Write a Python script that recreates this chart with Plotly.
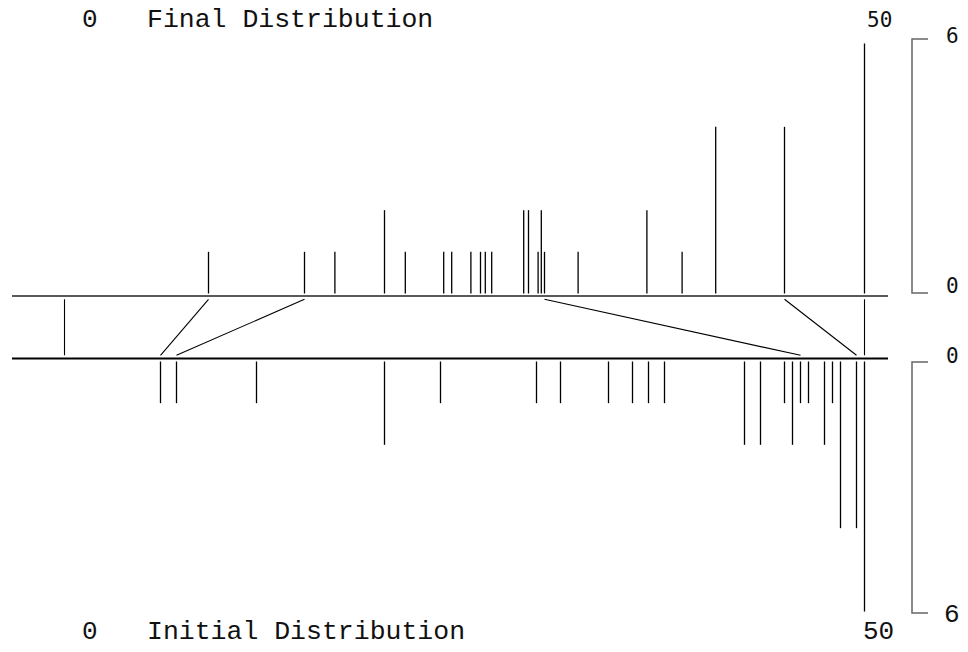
import plotly.graph_objects as go

# ---- data ----
final_values = [9, 15, 16.9, 20, 21.3, 23.7, 24.2, 25.4, 26.0, 26.3, 26.7, 28.7, 29.0,
                29.6, 29.8, 30.0, 32.1, 36.4, 38.6, 40.7, 45, 50]
final_counts = [1, 1, 1, 2, 1, 1, 1, 1, 1, 1, 1, 2, 2, 1, 2, 1, 1, 2, 1, 4, 4, 6]

initial_values = [6, 7, 12, 20, 23.5, 29.5, 31, 34, 35.5, 36.5, 37.5, 42.5, 43.5, 45,
                  45.5, 46, 46.5, 47.5, 48, 48.5, 49.5, 50]
initial_counts = [1, 1, 1, 2, 1, 1, 1, 1, 1, 1, 1, 2, 2, 1, 2, 1, 1, 2, 1, 4, 4, 6]

connector_initial = [0, 6, 7, 46, 49.5, 50]
connector_final = [0, 9, 15, 30.0, 45, 50]

x_min, x_max = 0, 50
count_max = 6

# ---- layout constants (pixel geometry; page body adds an 8px margin) ----
OFF = 8
W, H = 968 - OFF, 652 - OFF
PX_PER_X = 16.0
X0_PX = 64.5 - OFF
U = 41.67            # pixels per count unit
TOP_AXIS_PX = 296.0 - OFF

def ypx(p):
    return (TOP_AXIS_PX - (p - OFF)) / U

def xv(p):
    return x_min + ((p - OFF) - X0_PX) / PX_PER_X

top_axis_y = 0.0
top_bar_base = ypx(293.5)
bot_axis_y = ypx(358.5)
bot_bar_base = ypx(361.5)
conn_top = ypx(299.3)
conn_bot = ypx(355.3)

axis_left = xv(12)
axis_right = xv(888)

fig = go.Figure()

# axis lines
fig.add_trace(go.Scatter(x=[axis_left, axis_right], y=[top_axis_y, top_axis_y], mode="lines",
                         line=dict(color="#222", width=1.5), hoverinfo="skip"))
fig.add_trace(go.Scatter(x=[axis_left, axis_right], y=[bot_axis_y, bot_axis_y], mode="lines",
                         line=dict(color="#000", width=2), hoverinfo="skip"))

# final distribution bars
xs, ys = [], []
for v, c in zip(final_values, final_counts):
    xs += [v, v, None]
    ys += [top_bar_base, top_bar_base + c, None]
fig.add_trace(go.Scatter(x=xs, y=ys, mode="lines", line=dict(color="#000", width=1.3),
                         name="Final", hoverinfo="skip"))

# initial distribution bars
xs, ys = [], []
for v, c in zip(initial_values, initial_counts):
    xs += [v, v, None]
    ys += [bot_bar_base, bot_bar_base - c, None]
fig.add_trace(go.Scatter(x=xs, y=ys, mode="lines", line=dict(color="#000", width=1.3),
                         name="Initial", hoverinfo="skip"))

# connectors
xs, ys = [], []
for a, b in zip(connector_initial, connector_final):
    xs += [a, b, None]
    ys += [conn_bot, conn_top, None]
fig.add_trace(go.Scatter(x=xs, y=ys, mode="lines", line=dict(color="#000", width=1.1),
                         hoverinfo="skip"))

# scale brackets
bx0, bx1 = xv(912), xv(928)
tb_top, tb_bot = ypx(39), ypx(293)
bb_top, bb_bot = ypx(362), ypx(613)
fig.add_trace(go.Scatter(x=[bx1, bx0, bx0, bx1], y=[tb_top, tb_top, tb_bot, tb_bot], mode="lines",
                         line=dict(color="#666", width=1.5), hoverinfo="skip"))
fig.add_trace(go.Scatter(x=[bx1, bx0, bx0, bx1], y=[bb_top, bb_top, bb_bot, bb_bot], mode="lines",
                         line=dict(color="#666", width=1.5), hoverinfo="skip"))

MONO = "Liberation Mono, Courier New, monospace"
SANSMONO = "DejaVu Sans Mono, monospace"

def txt(x, y, s, font, size, anchor="center"):
    fig.add_annotation(x=(x - OFF) / W, y=1 - (y - OFF) / H, xref="paper", yref="paper", text=s,
                       showarrow=False, xanchor=anchor, yanchor="middle",
                       font=dict(family=font, size=size, color="#111"))

txt(90, 20, str(x_min), MONO, 26)
txt(145, 20, "Final Distribution", MONO, 26.5, "left")
txt(879, 20, str(x_max), SANSMONO, 21)
txt(90, 632, str(x_min), MONO, 26)
txt(145, 632, "Initial Distribution", MONO, 26.5, "left")
txt(878, 632, str(x_max), MONO, 26)
txt(952, 36, str(count_max), SANSMONO, 21)
txt(952, 286, "0", SANSMONO, 21)
txt(952, 356, "0", SANSMONO, 21)
txt(952, 615, str(count_max), MONO, 26)

fig.update_layout(
    width=W, height=H, margin=dict(l=0, r=0, t=0, b=0),
    paper_bgcolor="white", plot_bgcolor="white", showlegend=False,
    xaxis=dict(range=[xv(OFF), xv(OFF + W)], visible=False, fixedrange=True),
    yaxis=dict(range=[ypx(OFF + H), ypx(OFF)], visible=False, fixedrange=True),
)

fig.write_html("out.html")
